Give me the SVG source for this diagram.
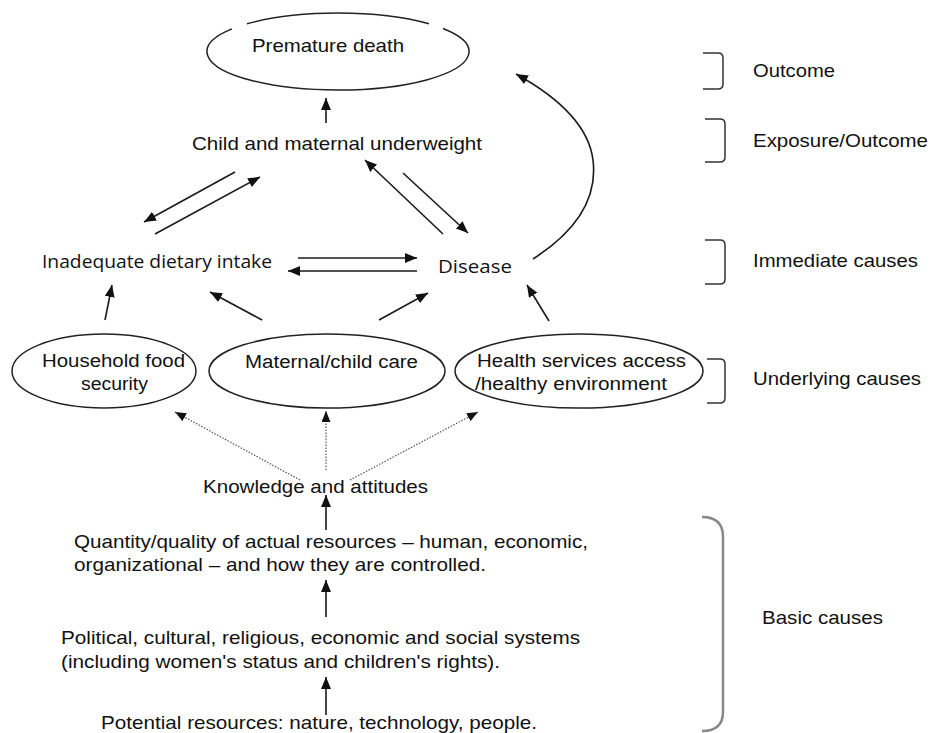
<svg xmlns="http://www.w3.org/2000/svg" width="930" height="733" viewBox="0 0 930 733">
<style>
text{font-family:"Liberation Sans",Arial,sans-serif;font-size:18.5px;fill:#111}
.e{font-size:18px}
.h{font-family:"Open Sans","Noto Sans",sans-serif;font-size:17.5px}
.node{fill:none;stroke:#222;stroke-width:1.5}
.ln{fill:none;stroke:#1a1a1a;stroke-width:1.6}
.dot{fill:none;stroke:#555;stroke-width:1.2;stroke-dasharray:1.5 1.5}
.br{fill:none;stroke:#333;stroke-width:1.5}
.bb{fill:none;stroke:#888;stroke-width:2.5}
</style>
<defs>
<marker id="ah" markerUnits="userSpaceOnUse" markerWidth="13" markerHeight="11" refX="12" refY="5" orient="auto"><path d="M0,0 L12,5 L0,10 z" fill="#111"/></marker>
<marker id="ad" markerUnits="userSpaceOnUse" markerWidth="12" markerHeight="10" refX="11" refY="4.5" orient="auto"><path d="M0,0 L11,4.5 L0,9 z" fill="#111"/></marker>
</defs>

<g id="premature-death">
<path class="node" d="M247,23.8 A131,38.5 0 0,1 429,23.8 M443,28.5 A131,38.5 0 1,1 232,28.9"/>
<text x="252" y="52" textLength="152" lengthAdjust="spacingAndGlyphs">Premature death</text>
</g>
<g id="underweight"><text x="192" y="150" textLength="290" lengthAdjust="spacingAndGlyphs">Child and maternal underweight</text></g>
<g id="inadequate"><text class="h" x="42" y="268" textLength="230" lengthAdjust="spacingAndGlyphs">Inadequate dietary intake</text></g>
<g id="disease"><text class="h" x="438" y="273" textLength="74" lengthAdjust="spacingAndGlyphs">Disease</text></g>
<g id="household">
<ellipse class="node" cx="104" cy="371" rx="92" ry="37"/>
<text class="e" x="42" y="367" textLength="143" lengthAdjust="spacingAndGlyphs">Household food</text>
<text class="e" x="81" y="390" textLength="67" lengthAdjust="spacingAndGlyphs">security</text>
</g>
<g id="care">
<ellipse class="node" cx="327" cy="371" rx="118" ry="37"/>
<text class="e" x="245" y="368" textLength="173" lengthAdjust="spacingAndGlyphs">Maternal/child care</text>
</g>
<g id="health">
<ellipse class="node" cx="579" cy="371" rx="124" ry="37"/>
<text class="e" x="477" y="367" textLength="209" lengthAdjust="spacingAndGlyphs">Health services access</text>
<text class="e" x="475" y="390" textLength="192" lengthAdjust="spacingAndGlyphs">/healthy environment</text>
</g>
<g id="knowledge"><text x="203" y="493" textLength="225" lengthAdjust="spacingAndGlyphs">Knowledge and attitudes</text></g>
<g id="resources">
<text x="74" y="548" textLength="514" lengthAdjust="spacingAndGlyphs">Quantity/quality of actual resources – human, economic,</text>
<text x="74" y="571" textLength="412" lengthAdjust="spacingAndGlyphs">organizational – and how they are controlled.</text>
</g>
<g id="systems">
<text x="61" y="644" textLength="519" lengthAdjust="spacingAndGlyphs">Political, cultural, religious, economic and social systems</text>
<text x="61" y="668" textLength="439" lengthAdjust="spacingAndGlyphs">(including women's status and children's rights).</text>
</g>
<g id="potential"><text x="101" y="729" textLength="436" lengthAdjust="spacingAndGlyphs">Potential resources: nature, technology, people.</text></g>

<g id="levels">
<path class="br" d="M703,53 L718,53 Q723,53 723,58 L723,84 Q723,89 718,89 L703,89"/>
<text x="753" y="77" textLength="82" lengthAdjust="spacingAndGlyphs">Outcome</text>
<path class="br" d="M705,119 L720,119 Q725,119 725,124 L725,157 Q725,162 720,162 L705,162"/>
<text x="753" y="147" textLength="175" lengthAdjust="spacingAndGlyphs">Exposure/Outcome</text>
<path class="br" d="M705,240 L720,240 Q725,240 725,245 L725,279 Q725,284 720,284 L705,284"/>
<text x="753" y="267" textLength="165" lengthAdjust="spacingAndGlyphs">Immediate causes</text>
<path class="br" d="M707,359 L720,359 Q725,359 725,364 L725,398 Q725,403 720,403 L707,403"/>
<text x="753" y="385" textLength="168" lengthAdjust="spacingAndGlyphs">Underlying causes</text>
<path class="bb" d="M702,517 Q723,517 723,537 L723,712 Q723,731 702,731"/>
<text x="762" y="624" textLength="121" lengthAdjust="spacingAndGlyphs">Basic causes</text>
</g>

<g id="connectors">
<line class="ln" x1="326" y1="123" x2="326" y2="98" marker-end="url(#ah)"/>
<line class="ln" x1="235" y1="172" x2="144" y2="222" marker-end="url(#ah)"/>
<line class="ln" x1="155" y1="234" x2="260" y2="177" marker-end="url(#ah)"/>
<line class="ln" x1="443" y1="234" x2="365" y2="160" marker-end="url(#ah)"/>
<line class="ln" x1="403" y1="173" x2="468" y2="233" marker-end="url(#ah)"/>
<line class="ln" x1="298" y1="258" x2="417" y2="258" marker-end="url(#ah)"/>
<line class="ln" x1="417" y1="271" x2="288" y2="271" marker-end="url(#ah)"/>
<path class="ln" d="M533,259 C575,232 598,200 593,160 C589,128 563,100 516,74" marker-end="url(#ah)"/>
<line class="ln" x1="105" y1="320" x2="112" y2="285" marker-end="url(#ah)"/>
<line class="ln" x1="262" y1="320" x2="210" y2="292" marker-end="url(#ah)"/>
<line class="ln" x1="379" y1="320" x2="428" y2="293" marker-end="url(#ah)"/>
<line class="ln" x1="549" y1="321" x2="527" y2="285" marker-end="url(#ah)"/>
<line class="dot" x1="300" y1="480" x2="175" y2="412" marker-end="url(#ad)"/>
<line class="dot" x1="326" y1="470" x2="326" y2="411" marker-end="url(#ad)"/>
<line class="dot" x1="350" y1="480" x2="478" y2="412" marker-end="url(#ad)"/>
<line class="ln" x1="326" y1="530" x2="326" y2="495" marker-end="url(#ah)"/>
<line class="ln" x1="326" y1="617" x2="326" y2="580" marker-end="url(#ah)"/>
<line class="ln" x1="326" y1="715" x2="326" y2="677" marker-end="url(#ah)"/>
</g>
</svg>
